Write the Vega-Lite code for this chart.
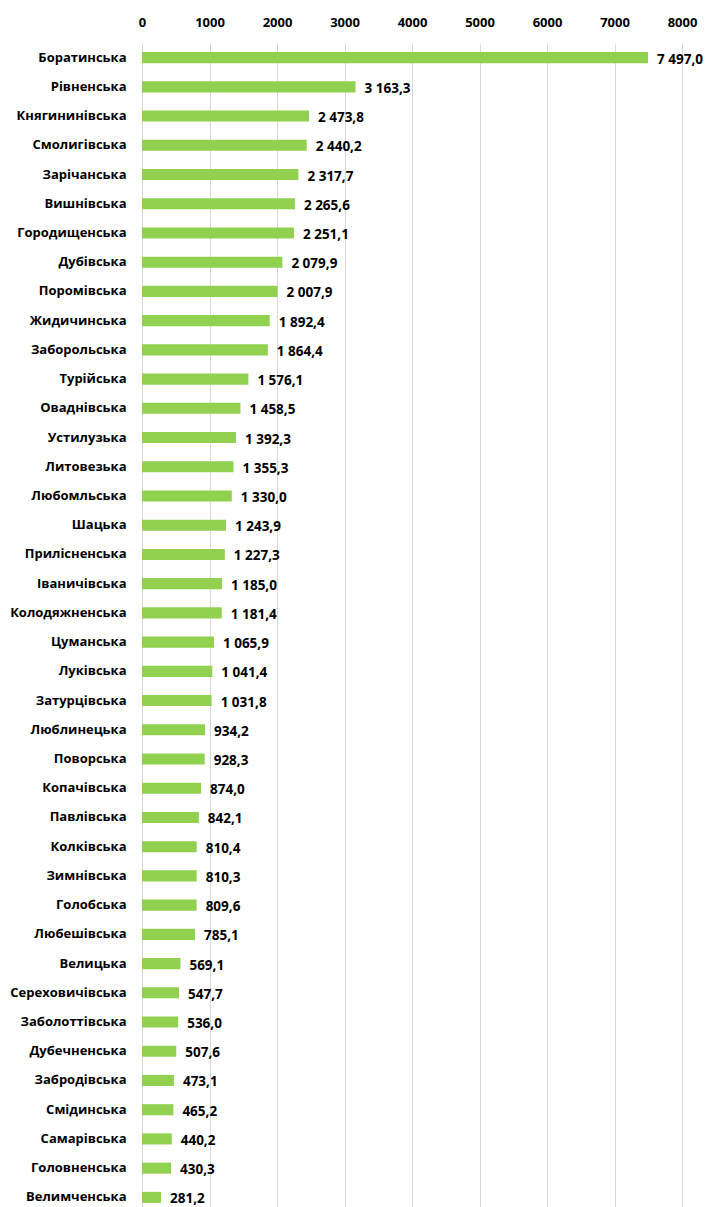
{
  "$schema": "https://vega.github.io/schema/vega-lite/v6.json",
  "autosize": {"type": "none"},
  "width": 540,
  "height": 1169,
  "padding": {"left": 142, "top": 43, "right": 25, "bottom": 0},
  "background": "white",
  "config": {
    "view": {"stroke": null},
    "locale": {"number": {"decimal": ",", "thousands": " ", "grouping": [3], "currency": ["", ""]}},
    "font": "Open Sans"
  },
  "data": {"values": [
    {"name": "Боратинська", "value": 7497.0},
    {"name": "Рівненська", "value": 3163.3},
    {"name": "Княгининівська", "value": 2473.8},
    {"name": "Смолигівська", "value": 2440.2},
    {"name": "Зарічанська", "value": 2317.7},
    {"name": "Вишнівська", "value": 2265.6},
    {"name": "Городищенська", "value": 2251.1},
    {"name": "Дубівська", "value": 2079.9},
    {"name": "Поромівська", "value": 2007.9},
    {"name": "Жидичинська", "value": 1892.4},
    {"name": "Заборольська", "value": 1864.4},
    {"name": "Турійська", "value": 1576.1},
    {"name": "Оваднівська", "value": 1458.5},
    {"name": "Устилузька", "value": 1392.3},
    {"name": "Литовезька", "value": 1355.3},
    {"name": "Любомльська", "value": 1330.0},
    {"name": "Шацька ", "value": 1243.9},
    {"name": "Прилісненська", "value": 1227.3},
    {"name": "Іваничівська", "value": 1185.0},
    {"name": "Колодяжненська", "value": 1181.4},
    {"name": "Цуманська", "value": 1065.9},
    {"name": "Луківська", "value": 1041.4},
    {"name": "Затурцівська", "value": 1031.8},
    {"name": "Люблинецька", "value": 934.2},
    {"name": "Поворська", "value": 928.3},
    {"name": "Копачівська", "value": 874.0},
    {"name": "Павлівська", "value": 842.1},
    {"name": "Колківська", "value": 810.4},
    {"name": "Зимнівська", "value": 810.3},
    {"name": "Голобська", "value": 809.6},
    {"name": "Любешівська", "value": 785.1},
    {"name": "Велицька", "value": 569.1},
    {"name": "Сереховичівська", "value": 547.7},
    {"name": "Заболоттівська", "value": 536.0},
    {"name": "Дубечненська", "value": 507.6},
    {"name": "Забродівська", "value": 473.1},
    {"name": "Смідинська", "value": 465.2},
    {"name": "Самарівська", "value": 440.2},
    {"name": "Головненська", "value": 430.3},
    {"name": "Велимченська", "value": 281.2}
  ]},
  "encoding": {
    "y": {
      "field": "name", "type": "nominal", "sort": null, "title": null,
      "scale": {"paddingInner": 0.62, "paddingOuter": 0.31},
      "axis": {"domain": false, "ticks": false, "labelFontSize": 13, "labelFontWeight": "bold", "labelColor": "#000000", "labelPadding": 16, "labelFont": "Open Sans"}
    },
    "x": {
      "field": "value", "type": "quantitative", "title": null,
      "scale": {"domain": [0, 8000], "nice": false},
      "axis": {"orient": "top", "values": [0,1000,2000,3000,4000,5000,6000,7000,8000], "format": "d", "domain": false, "ticks": false, "grid": true, "gridColor": "#d9d9d9", "gridWidth": 1, "labelFlush": false, "labelFontSize": 13, "labelFontWeight": "bold", "labelColor": "#000000", "labelPadding": 14, "labelFont": "Open Sans"}
    }
  },
  "layer": [
    {"mark": {"type": "bar", "color": "#92d050"}},
    {"mark": {"type": "text", "align": "left", "baseline": "middle", "dx": 9, "dy": 2, "fontSize": 13.5, "fontWeight": "bold", "color": "#000000", "font": "Open Sans"},
     "encoding": {"text": {"field": "value", "type": "quantitative", "format": ",.1f"}}}
  ]
}
